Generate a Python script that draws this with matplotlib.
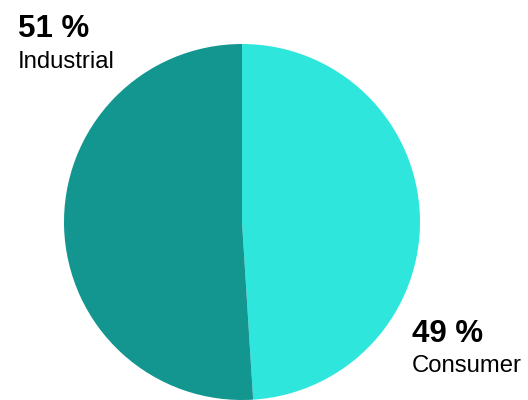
import matplotlib.pyplot as plt

labels = ["Consumer", "Industrial"]
shares = [49, 51]
colors = ["#2ee6dc", "#139690"]

plt.rcParams["font.family"] = ["Liberation Sans", "DejaVu Sans"]

W, H = 528, 400
fig = plt.figure(figsize=(W / 100, H / 100), dpi=100)

# pie centred at (242, 222) px, radius 178 px
cx, cy, r = 242, 400 - 222, 178
ax = fig.add_axes([(cx - r) / W, (cy - r) / H, 2 * r / W, 2 * r / H])
ax.pie(shares, colors=colors, startangle=90, counterclock=False,
       radius=1, wedgeprops=dict(linewidth=0))
ax.set_xlim(-1, 1)
ax.set_ylim(-1, 1)
ax.set_aspect("equal")
ax.axis("off")

# labels (pixel positions of baselines)
fig.text(18 / W, 1 - 37 / H, f"{shares[1]} %", fontsize=22.5, fontweight="bold",
         va="baseline", ha="left")
fig.text(18 / W, 1 - 68 / H, labels[1], fontsize=17.2, va="baseline", ha="left")
fig.text(412 / W, 1 - 342 / H, f"{shares[0]} %", fontsize=22.5, fontweight="bold",
         va="baseline", ha="left")
fig.text(412 / W, 1 - 372 / H, labels[0], fontsize=17.2, va="baseline", ha="left")

fig.savefig("out.png", dpi=100)
